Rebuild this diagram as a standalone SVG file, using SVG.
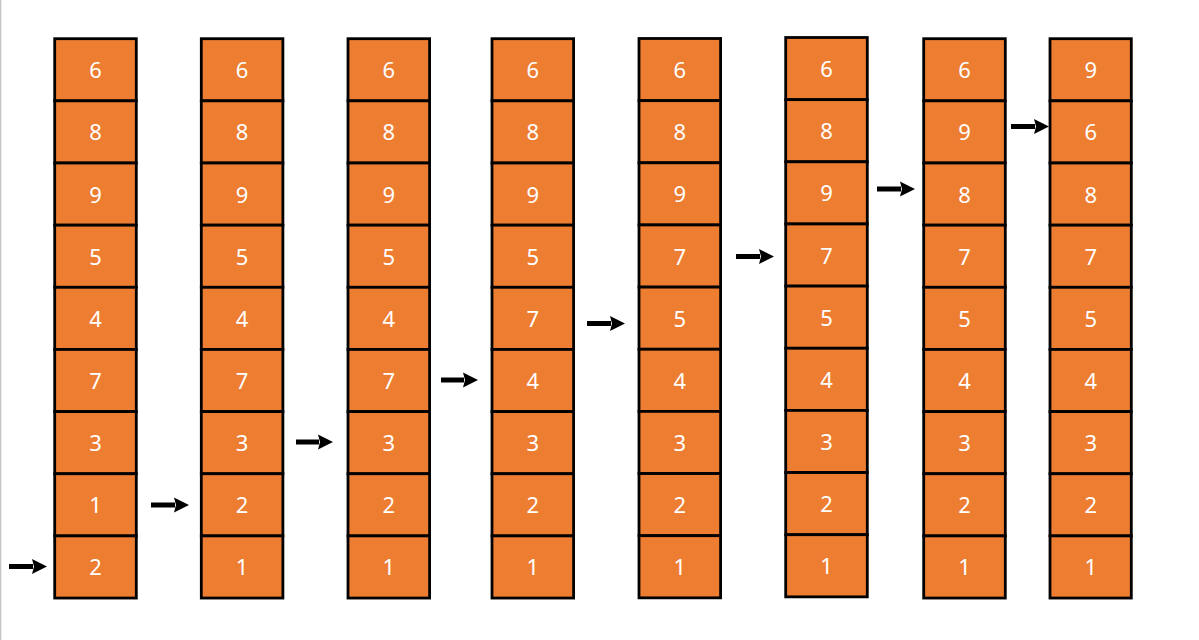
<svg xmlns="http://www.w3.org/2000/svg" width="1199" height="640" viewBox="0 0 1199 640">
<style>
.c rect{fill:#ED7D31;stroke:#000;stroke-width:2.8}
.c text{fill:#fff;font-family:"Noto Sans","Liberation Sans",sans-serif;font-weight:400;font-size:22px;text-anchor:middle;dominant-baseline:central}
.a line{stroke:#000;stroke-width:5}
</style>
<defs>
<marker id="ah" markerUnits="userSpaceOnUse" markerWidth="16" markerHeight="16" refX="1" refY="7.5" orient="auto" overflow="visible">
<path d="M0,0 L15,7.5 L0,15 L2,7.5 z" fill="#000"/>
</marker>
</defs>
<rect x="0" y="0" width="1.3" height="640" fill="#c4c4c4"/>
<g id="col1" class="c" transform="translate(54.7,38.7)">
<g id="c1-1"><rect x="0" y="0" width="81.6" height="62.15"/><text x="40.8" y="30.6">6</text></g>
<g id="c1-2"><rect x="0" y="62.15" width="81.6" height="62.15"/><text x="40.8" y="92.7">8</text></g>
<g id="c1-3"><rect x="0" y="124.3" width="81.6" height="62.15"/><text x="40.8" y="154.9">9</text></g>
<g id="c1-4"><rect x="0" y="186.45" width="81.6" height="62.15"/><text x="40.8" y="217">5</text></g>
<g id="c1-5"><rect x="0" y="248.6" width="81.6" height="62.15"/><text x="40.8" y="279.2">4</text></g>
<g id="c1-6"><rect x="0" y="310.75" width="81.6" height="62.15"/><text x="40.8" y="341.3">7</text></g>
<g id="c1-7"><rect x="0" y="372.9" width="81.6" height="62.15"/><text x="40.8" y="403.5">3</text></g>
<g id="c1-8"><rect x="0" y="435.05" width="81.6" height="62.15"/><text x="40.8" y="465.6">1</text></g>
<g id="c1-9"><rect x="0" y="497.2" width="81.6" height="62.15"/><text x="40.8" y="527.8">2</text></g>
</g>
<g id="col2" class="c" transform="translate(201.3,38.7)">
<g id="c2-1"><rect x="0" y="0" width="81.6" height="62.15"/><text x="40.8" y="30.6">6</text></g>
<g id="c2-2"><rect x="0" y="62.15" width="81.6" height="62.15"/><text x="40.8" y="92.7">8</text></g>
<g id="c2-3"><rect x="0" y="124.3" width="81.6" height="62.15"/><text x="40.8" y="154.9">9</text></g>
<g id="c2-4"><rect x="0" y="186.45" width="81.6" height="62.15"/><text x="40.8" y="217">5</text></g>
<g id="c2-5"><rect x="0" y="248.6" width="81.6" height="62.15"/><text x="40.8" y="279.2">4</text></g>
<g id="c2-6"><rect x="0" y="310.75" width="81.6" height="62.15"/><text x="40.8" y="341.3">7</text></g>
<g id="c2-7"><rect x="0" y="372.9" width="81.6" height="62.15"/><text x="40.8" y="403.5">3</text></g>
<g id="c2-8"><rect x="0" y="435.05" width="81.6" height="62.15"/><text x="40.8" y="465.6">2</text></g>
<g id="c2-9"><rect x="0" y="497.2" width="81.6" height="62.15"/><text x="40.8" y="527.8">1</text></g>
</g>
<g id="col3" class="c" transform="translate(348,38.7)">
<g id="c3-1"><rect x="0" y="0" width="81.6" height="62.15"/><text x="40.8" y="30.6">6</text></g>
<g id="c3-2"><rect x="0" y="62.15" width="81.6" height="62.15"/><text x="40.8" y="92.7">8</text></g>
<g id="c3-3"><rect x="0" y="124.3" width="81.6" height="62.15"/><text x="40.8" y="154.9">9</text></g>
<g id="c3-4"><rect x="0" y="186.45" width="81.6" height="62.15"/><text x="40.8" y="217">5</text></g>
<g id="c3-5"><rect x="0" y="248.6" width="81.6" height="62.15"/><text x="40.8" y="279.2">4</text></g>
<g id="c3-6"><rect x="0" y="310.75" width="81.6" height="62.15"/><text x="40.8" y="341.3">7</text></g>
<g id="c3-7"><rect x="0" y="372.9" width="81.6" height="62.15"/><text x="40.8" y="403.5">3</text></g>
<g id="c3-8"><rect x="0" y="435.05" width="81.6" height="62.15"/><text x="40.8" y="465.6">2</text></g>
<g id="c3-9"><rect x="0" y="497.2" width="81.6" height="62.15"/><text x="40.8" y="527.8">1</text></g>
</g>
<g id="col4" class="c" transform="translate(492,38.7)">
<g id="c4-1"><rect x="0" y="0" width="81.6" height="62.15"/><text x="40.8" y="30.6">6</text></g>
<g id="c4-2"><rect x="0" y="62.15" width="81.6" height="62.15"/><text x="40.8" y="92.7">8</text></g>
<g id="c4-3"><rect x="0" y="124.3" width="81.6" height="62.15"/><text x="40.8" y="154.9">9</text></g>
<g id="c4-4"><rect x="0" y="186.45" width="81.6" height="62.15"/><text x="40.8" y="217">5</text></g>
<g id="c4-5"><rect x="0" y="248.6" width="81.6" height="62.15"/><text x="40.8" y="279.2">7</text></g>
<g id="c4-6"><rect x="0" y="310.75" width="81.6" height="62.15"/><text x="40.8" y="341.3">4</text></g>
<g id="c4-7"><rect x="0" y="372.9" width="81.6" height="62.15"/><text x="40.8" y="403.5">3</text></g>
<g id="c4-8"><rect x="0" y="435.05" width="81.6" height="62.15"/><text x="40.8" y="465.6">2</text></g>
<g id="c4-9"><rect x="0" y="497.2" width="81.6" height="62.15"/><text x="40.8" y="527.8">1</text></g>
</g>
<g id="col5" class="c" transform="translate(639,38.5)">
<g id="c5-1"><rect x="0" y="0" width="81.6" height="62.15"/><text x="40.8" y="30.6">6</text></g>
<g id="c5-2"><rect x="0" y="62.15" width="81.6" height="62.15"/><text x="40.8" y="92.7">8</text></g>
<g id="c5-3"><rect x="0" y="124.3" width="81.6" height="62.15"/><text x="40.8" y="154.9">9</text></g>
<g id="c5-4"><rect x="0" y="186.45" width="81.6" height="62.15"/><text x="40.8" y="217">7</text></g>
<g id="c5-5"><rect x="0" y="248.6" width="81.6" height="62.15"/><text x="40.8" y="279.2">5</text></g>
<g id="c5-6"><rect x="0" y="310.75" width="81.6" height="62.15"/><text x="40.8" y="341.3">4</text></g>
<g id="c5-7"><rect x="0" y="372.9" width="81.6" height="62.15"/><text x="40.8" y="403.5">3</text></g>
<g id="c5-8"><rect x="0" y="435.05" width="81.6" height="62.15"/><text x="40.8" y="465.6">2</text></g>
<g id="c5-9"><rect x="0" y="497.2" width="81.6" height="62.15"/><text x="40.8" y="527.8">1</text></g>
</g>
<g id="col6" class="c" transform="translate(785.7,37.5)">
<g id="c6-1"><rect x="0" y="0" width="81.6" height="62.15"/><text x="40.8" y="30.6">6</text></g>
<g id="c6-2"><rect x="0" y="62.15" width="81.6" height="62.15"/><text x="40.8" y="92.7">8</text></g>
<g id="c6-3"><rect x="0" y="124.3" width="81.6" height="62.15"/><text x="40.8" y="154.9">9</text></g>
<g id="c6-4"><rect x="0" y="186.45" width="81.6" height="62.15"/><text x="40.8" y="217">7</text></g>
<g id="c6-5"><rect x="0" y="248.6" width="81.6" height="62.15"/><text x="40.8" y="279.2">5</text></g>
<g id="c6-6"><rect x="0" y="310.75" width="81.6" height="62.15"/><text x="40.8" y="341.3">4</text></g>
<g id="c6-7"><rect x="0" y="372.9" width="81.6" height="62.15"/><text x="40.8" y="403.5">3</text></g>
<g id="c6-8"><rect x="0" y="435.05" width="81.6" height="62.15"/><text x="40.8" y="465.6">2</text></g>
<g id="c6-9"><rect x="0" y="497.2" width="81.6" height="62.15"/><text x="40.8" y="527.8">1</text></g>
</g>
<g id="col7" class="c" transform="translate(923.7,38.7)">
<g id="c7-1"><rect x="0" y="0" width="81.6" height="62.15"/><text x="40.8" y="30.6">6</text></g>
<g id="c7-2"><rect x="0" y="62.15" width="81.6" height="62.15"/><text x="40.8" y="92.7">9</text></g>
<g id="c7-3"><rect x="0" y="124.3" width="81.6" height="62.15"/><text x="40.8" y="154.9">8</text></g>
<g id="c7-4"><rect x="0" y="186.45" width="81.6" height="62.15"/><text x="40.8" y="217">7</text></g>
<g id="c7-5"><rect x="0" y="248.6" width="81.6" height="62.15"/><text x="40.8" y="279.2">5</text></g>
<g id="c7-6"><rect x="0" y="310.75" width="81.6" height="62.15"/><text x="40.8" y="341.3">4</text></g>
<g id="c7-7"><rect x="0" y="372.9" width="81.6" height="62.15"/><text x="40.8" y="403.5">3</text></g>
<g id="c7-8"><rect x="0" y="435.05" width="81.6" height="62.15"/><text x="40.8" y="465.6">2</text></g>
<g id="c7-9"><rect x="0" y="497.2" width="81.6" height="62.15"/><text x="40.8" y="527.8">1</text></g>
</g>
<g id="col8" class="c" transform="translate(1050,38.7)">
<g id="c8-1"><rect x="0" y="0" width="81.3" height="62.15"/><text x="40.7" y="30.6">9</text></g>
<g id="c8-2"><rect x="0" y="62.15" width="81.3" height="62.15"/><text x="40.7" y="92.7">6</text></g>
<g id="c8-3"><rect x="0" y="124.3" width="81.3" height="62.15"/><text x="40.7" y="154.9">8</text></g>
<g id="c8-4"><rect x="0" y="186.45" width="81.3" height="62.15"/><text x="40.7" y="217">7</text></g>
<g id="c8-5"><rect x="0" y="248.6" width="81.3" height="62.15"/><text x="40.7" y="279.2">5</text></g>
<g id="c8-6"><rect x="0" y="310.75" width="81.3" height="62.15"/><text x="40.7" y="341.3">4</text></g>
<g id="c8-7"><rect x="0" y="372.9" width="81.3" height="62.15"/><text x="40.7" y="403.5">3</text></g>
<g id="c8-8"><rect x="0" y="435.05" width="81.3" height="62.15"/><text x="40.7" y="465.6">2</text></g>
<g id="c8-9"><rect x="0" y="497.2" width="81.3" height="62.15"/><text x="40.7" y="527.8">1</text></g>
</g>
<g id="connectors" class="a">
<line x1="9" y1="566.5" x2="33" y2="566.5" marker-end="url(#ah)"/>
<line x1="151" y1="505" x2="175" y2="505" marker-end="url(#ah)"/>
<line x1="296" y1="442" x2="319" y2="442" marker-end="url(#ah)"/>
<line x1="441" y1="380" x2="464" y2="380" marker-end="url(#ah)"/>
<line x1="587" y1="323.5" x2="611" y2="323.5" marker-end="url(#ah)"/>
<line x1="736" y1="256.5" x2="760" y2="256.5" marker-end="url(#ah)"/>
<line x1="877" y1="189" x2="901" y2="189" marker-end="url(#ah)"/>
<line x1="1011" y1="126.5" x2="1035" y2="126.5" marker-end="url(#ah)"/>
</g>
</svg>
